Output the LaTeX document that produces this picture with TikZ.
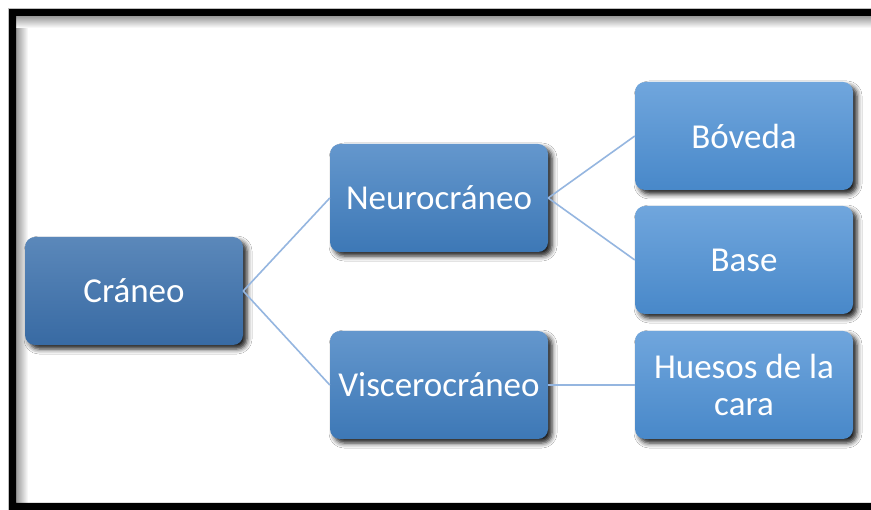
\documentclass[tikz,border=0pt]{standalone}
\usepackage{fontspec}
\setmainfont{Carlito}
\usetikzlibrary{shadows.blur}
\definecolor{topA}{HTML}{5B88BA}
\definecolor{botA}{HTML}{386AA3}
\definecolor{topB}{HTML}{6497CD}
\definecolor{botB}{HTML}{3D78B6}
\definecolor{topC}{HTML}{70A6DD}
\definecolor{botC}{HTML}{4888C9}
\definecolor{linkblue}{HTML}{95B6E0}
\tikzset{
  x=1pt, y=-1pt,
  box/.style={rounded corners=10pt, minimum width=218pt, minimum height=108pt,
    align=center, text=white, inner sep=0pt,
    font=\fontsize{35}{37}\selectfont,
    blur shadow={shadow xshift=4pt, shadow yshift=-4pt, shadow blur radius=5pt, shadow opacity=90}},
  boxA/.style={box, top color=topA, bottom color=botA},
  boxB/.style={box, top color=topB, bottom color=botB},
  boxC/.style={box, top color=topC, bottom color=botC},
  link/.style={draw=linkblue, line width=1.6pt}
}
\begin{document}
\begin{tikzpicture}
\useasboundingbox (0,0) rectangle (871,510);
\fill[white] (0,0) rectangle (871,510);
\begin{scope}
\clip (0,0) rectangle (871,510);
% inner shadow of the frame
\shade[left color=black!40, right color=white] (16,16) rectangle (28,503);
\shade[top color=black!40, bottom color=white] (16,16) rectangle (880,28);
\fill[white] (28,28) rectangle (880,503);
% black frame
\fill[black, even odd rule] (9,9) rectangle (890,515) (16,16) rectangle (890,503);
\draw[black!25, line width=0.8pt] (8.5,520) -- (8.5,8.5) -- (880,8.5);
\end{scope}

\node[boxA] (cr) at (134,291) {Cráneo};
\node[boxB] (ne) at (439,198) {Neurocráneo};
\node[boxB] (vi) at (439,385) {Viscerocráneo};
\node[boxC] (bo) at (744,136) {Bóveda};
\node[boxC] (ba) at (744,260) {Base};
\node[boxC] (hu) at (744,385) {Huesos de la\\cara};

\draw[link] (cr.east) -- (ne.west);
\draw[link] (cr.east) -- (vi.west);
\draw[link] (ne.east) -- (bo.west);
\draw[link] (ne.east) -- (ba.west);
\draw[link] (vi.east) -- (hu.west);
\end{tikzpicture}
\end{document}
